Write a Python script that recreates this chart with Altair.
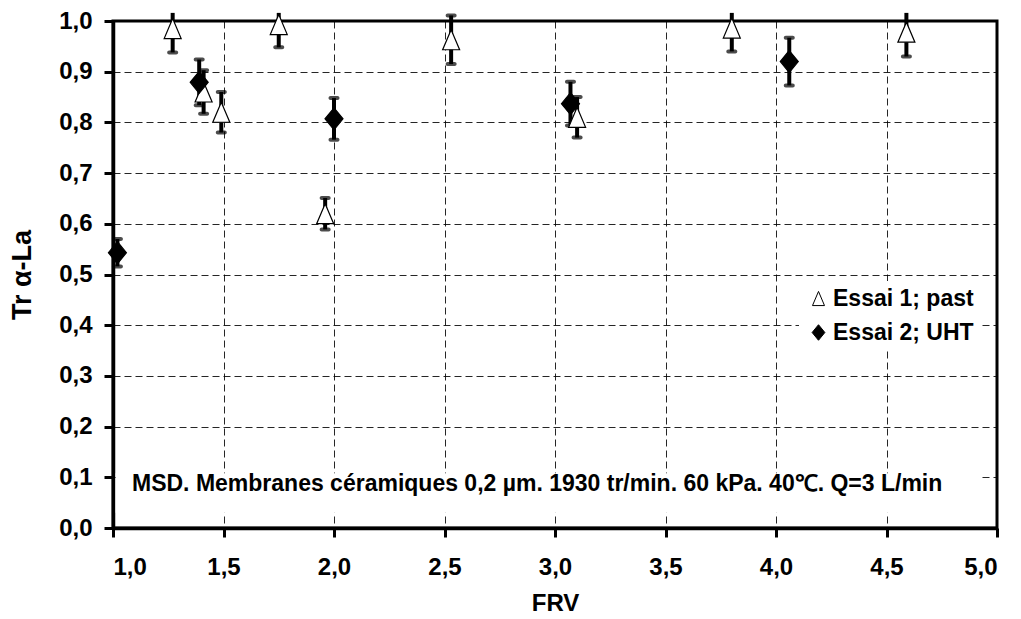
import altair as alt
import pandas as pd

# Essai 1; past (open triangles)
x1 = [1.27, 1.41, 1.49, 1.75, 1.96, 2.53, 3.10, 3.80, 4.59]
y1 = [0.985, 0.860, 0.820, 0.993, 0.620, 0.963, 0.810, 0.986, 0.978]
e1 = [0.047, 0.043, 0.040, 0.045, 0.031, 0.048, 0.040, 0.046, 0.048]

# Essai 2; UHT (filled diamonds)
x2 = [1.02, 1.39, 2.00, 3.07, 4.06]
y2 = [0.543, 0.879, 0.807, 0.837, 0.920]
e2 = [0.027, 0.045, 0.041, 0.043, 0.047]

series_names = ["Essai 1; past", "Essai 2; UHT"]
x_ticks = [1.0, 1.5, 2.0, 2.5, 3.0, 3.5, 4.0, 4.5, 5.0]
y_ticks = [0.0, 0.1, 0.2, 0.3, 0.4, 0.5, 0.6, 0.7, 0.8, 0.9, 1.0]
note = "MSD. Membranes céramiques 0,2 µm. 1930 tr/min. 60 kPa. 40℃. Q=3 L/min"

CLIP_TOP = 1.016
FONT = "Liberation Sans"

rows = []
for name, xs, ys, es in [(series_names[0], x1, y1, e1), (series_names[1], x2, y2, e2)]:
    for x, y, e in zip(xs, ys, es):
        lo, hi = y - e, y + e
        rows.append({"series": name, "FRV": x, "Tr": y, "lo": lo,
                     "hi": min(hi, CLIP_TOP), "hi_cap": hi if hi <= CLIP_TOP else None})
df = pd.DataFrame(rows)

xscale = alt.Scale(domain=[1.0, 5.0], nice=False, zero=False)
yscale = alt.Scale(domain=[0.0, 1.0], nice=False, zero=False)
fmt = "replace(format(datum.value, '.1f'), '.', ',')"

xaxis = alt.Axis(values=x_ticks, labelExpr=fmt, title="FRV", grid=True)
yaxis = alt.Axis(values=y_ticks, labelExpr=fmt, title="Tr α-La", grid=True,
                 titleFontSize=27)

base = alt.Chart(df)

bars = base.mark_rule(color="black", strokeWidth=4).encode(
    x=alt.X("FRV:Q", scale=xscale, axis=xaxis),
    y=alt.Y("lo:Q", scale=yscale, axis=yaxis),
    y2="hi:Q",
)
cap_lo = base.mark_tick(color="black", thickness=4, size=11, orient="horizontal", cornerRadius=2).encode(
    x="FRV:Q", y="lo:Q"
)
cap_hi = base.transform_filter("isValid(datum.hi_cap)").mark_tick(
    color="black", thickness=4, size=11, orient="horizontal", cornerRadius=2
).encode(x="FRV:Q", y="hi_cap:Q")

tri = "M0,-1L-0.85,1L0.85,1Z"
dia = "M0,-1.1L0.9,0L0,1.1L-0.9,0Z"

points = base.mark_point(filled=False, strokeWidth=1.2, opacity=1, size=400).encode(
    x="FRV:Q",
    y="Tr:Q",
    shape=alt.Shape("series:N", title=None,
                    scale=alt.Scale(domain=series_names, range=[tri, dia]),
                    legend=alt.Legend(orient="none", legendX=686, legendY=260,
                                      fillColor="white", padding=6, rowPadding=10,
                                      symbolSize=200, symbolStrokeWidth=1,
                                      labelFontSize=23,
                                      labelFont=FONT, labelFontWeight="bold",
                                      labelColor="black", symbolOffset=2, labelOffset=3)),
    fill=alt.Fill("series:N", title=None,
                  scale=alt.Scale(domain=series_names, range=["white", "black"])),
    stroke=alt.Stroke("series:N", title=None,
                      scale=alt.Scale(domain=series_names, range=["black", "black"])),
)

ann = pd.DataFrame({"x": [1.012], "x2": [4.92], "y": [0.03], "y2": [0.108],
                    "tx": [1.086], "ty": [0.087], "label": [note]})
box = alt.Chart(ann).mark_rect(fill="white").encode(x="x:Q", x2="x2:Q", y="y:Q", y2="y2:Q")
txt = alt.Chart(ann).mark_text(align="left", baseline="middle", font=FONT, fontWeight="bold",
                               fontSize=23, color="black").encode(x="tx:Q", y="ty:Q", text="label:N")

chart = alt.layer(box, txt, bars, cap_lo, cap_hi, points).properties(
    width=884, height=507,
    autosize="none",
    padding={"left": 105, "top": 13, "right": 10, "bottom": 90},
).configure_view(
    stroke="black", strokeWidth=3
).configure_axis(
    labelFont=FONT, labelFontWeight="bold", labelFontSize=24, labelColor="black",
    titleFont=FONT, titleFontWeight="bold", titleFontSize=24, titleColor="black",
    domainColor="black", domainWidth=3.5, tickColor="black", tickWidth=3, tickSize=9,
    gridColor="black", gridDash=[7, 4], gridWidth=1, gridOpacity=0.85,
).configure_axisX(
    labelPadding=18, titlePadding=12
).configure_axisY(
    labelPadding=12, titlePadding=22
)

chart.save("out.html", embed_options={"renderer": "svg", "actions": False})
